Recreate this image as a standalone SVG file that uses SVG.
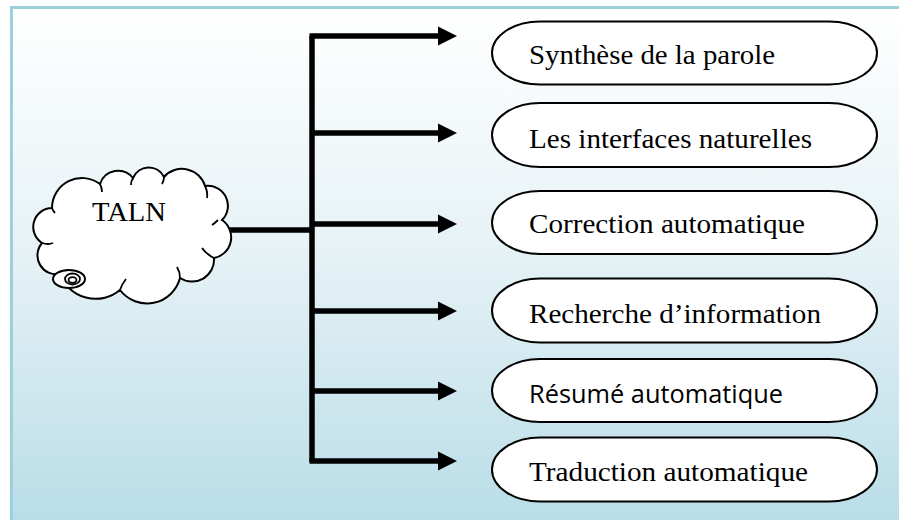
<svg xmlns="http://www.w3.org/2000/svg" width="899" height="520" viewBox="0 0 899 520">
<defs>
<linearGradient id="bg" x1="0" y1="0" x2="0" y2="1">
<stop offset="0" stop-color="#ffffff"/>
<stop offset="0.45" stop-color="#e6f2f6"/>
<stop offset="1" stop-color="#b5dbe6"/>
</linearGradient>
<marker id="ah" markerUnits="userSpaceOnUse" markerWidth="20" markerHeight="20" viewBox="0 0 20 20" refX="0" refY="10" orient="auto">
<polygon points="0,0.5 19,10 0,19.5" fill="#000"/>
</marker>
</defs>
<style>
.pill{fill:#fff;stroke:#000;stroke-width:2}
.t{font-family:"Liberation Serif","Times New Roman",serif;font-size:28px;fill:#000}
.s{font-family:"Open Sans","Liberation Sans",sans-serif;font-size:25px;fill:#000}
.ln{fill:none;stroke:#000;stroke-width:5.5}
.cl{fill:#fff;stroke:#000;stroke-width:2}
.cli{fill:none;stroke:#000;stroke-width:1.8}
</style>
<rect x="11.5" y="7.5" width="920" height="540" fill="url(#bg)" stroke="#9dd0dd" stroke-width="3"/>

<g id="connectors">
<polyline class="ln" points="312,462 312,36"/>
<line class="ln" x1="225" y1="230" x2="312" y2="230"/>
<line class="ln" x1="309.5" y1="36" x2="438" y2="36" marker-end="url(#ah)"/>
<line class="ln" x1="312" y1="133" x2="438" y2="133" marker-end="url(#ah)"/>
<line class="ln" x1="312" y1="224" x2="438" y2="224" marker-end="url(#ah)"/>
<line class="ln" x1="312" y1="311" x2="438" y2="311" marker-end="url(#ah)"/>
<line class="ln" x1="312" y1="391" x2="438" y2="391" marker-end="url(#ah)"/>
<line class="ln" x1="309.5" y1="461" x2="438" y2="461" marker-end="url(#ah)"/>
</g>

<g id="taln">
<path class="cl" d="M52,208 A30,30 0 0 1 100,184 A19,19 0 0 1 133,178 A17,17 0 0 1 164,177 A24,24 0 0 1 205,186 A20,20 0 0 1 222,220 A21,21 0 0 1 214,258 A22,22 0 0 1 180,278 A34,34 0 0 1 120,290 A38,38 0 0 1 60,274 A19,19 0 0 1 42,243 A19,19 0 0 1 52,208 Z"/>
<path class="cli" d="M100,184 Q102,188 102,192"/>
<path class="cli" d="M133,178 Q131,181 131,185"/>
<path class="cli" d="M164,177 Q164,181 162,184"/>
<path class="cli" d="M205,186 Q208,192 207,198"/>
<path class="cli" d="M218,220 Q215,223 212,225"/>
<path class="cli" d="M214,258 Q206,254 202,248"/>
<path class="cli" d="M180,278 Q180,272 177,267"/>
<path class="cli" d="M120,290 Q122,284 126,279"/>
<path class="cli" d="M60,274 Q65,273 68,270"/>
<path class="cli" d="M42,243 Q48,245 53,243"/>
<path class="cli" d="M52,208 Q53,211 55,213"/>
<ellipse class="cl" cx="69" cy="279" rx="16" ry="9"/>
<ellipse class="cli" cx="72.5" cy="279" rx="7.5" ry="5.5"/>
<ellipse class="cli" cx="72.5" cy="280" rx="4" ry="2.8"/>
<text class="t" x="92" y="221" font-size="31" textLength="74" lengthAdjust="spacingAndGlyphs">TALN</text>
</g>

<g id="n1">
<rect class="pill" x="492" y="21.5" width="385" height="63" rx="48" ry="31.5"/>
<text class="t" x="529" y="64" textLength="246" lengthAdjust="spacingAndGlyphs">Synthèse de la parole</text>
</g>
<g id="n2">
<rect class="pill" x="492" y="103" width="385" height="64" rx="48" ry="32"/>
<text class="t" x="529" y="148" textLength="283" lengthAdjust="spacingAndGlyphs">Les interfaces naturelles</text>
</g>
<g id="n3">
<rect class="pill" x="492" y="191" width="385" height="63" rx="48" ry="31.5"/>
<text class="t" x="529" y="233" textLength="276" lengthAdjust="spacingAndGlyphs">Correction automatique</text>
</g>
<g id="n4">
<rect class="pill" x="492" y="278.5" width="385" height="64" rx="48" ry="32"/>
<text class="t" x="529" y="323" textLength="292" lengthAdjust="spacingAndGlyphs">Recherche d’information</text>
</g>
<g id="n5">
<rect class="pill" x="492" y="359" width="385" height="63" rx="48" ry="31.5"/>
<text class="s" x="529" y="403" textLength="254" lengthAdjust="spacingAndGlyphs">Résumé automatique</text>
</g>
<g id="n6">
<rect class="pill" x="492" y="437.5" width="385" height="64" rx="48" ry="32"/>
<text class="t" x="529" y="481" textLength="279" lengthAdjust="spacingAndGlyphs">Traduction automatique</text>
</g>
</svg>
